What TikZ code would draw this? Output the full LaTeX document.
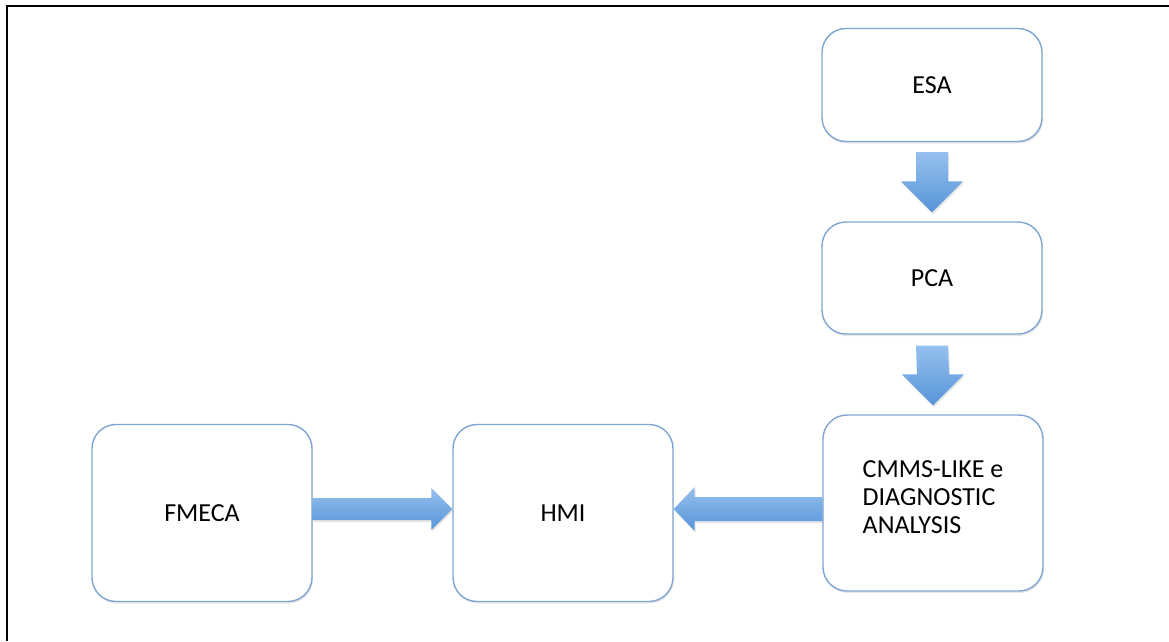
\documentclass[tikz,border=0pt]{standalone}
\usepackage{fontspec}
\setmainfont{Carlito}
\usetikzlibrary{calc,shadows}
\definecolor{boxline}{RGB}{126,166,211}
\definecolor{arrlight}{RGB}{150,192,238}
\definecolor{arrdark}{RGB}{86,148,218}
\tikzset{
  stepbox/.style={draw=boxline, line width=1.4pt, fill=white, rounded corners=24pt,
    minimum width=220pt, inner sep=0pt, align=left,
    font=\fontsize{26}{28}\selectfont,
    drop shadow={opacity=0.18, shadow xshift=1pt, shadow yshift=-2pt}},
  blockarrow/.style={top color=arrlight, bottom color=arrdark,
    drop shadow={opacity=0.2, shadow xshift=1pt, shadow yshift=-2pt}},
}
\begin{document}
\begin{tikzpicture}[x=1pt,y=-1pt]
  \useasboundingbox[fill=white] (0,0) rectangle (1169,641);
  % frame
  \draw[line width=2pt] (7,641) -- (7,6) -- (1169,6);

  % boxes
  \node[stepbox, minimum height=113pt] (esa)   at (932,85)  {ESA};
  \node[stepbox, minimum height=112pt] (pca)   at (932,278) {PCA};
  \node[stepbox, minimum height=176pt] (cmms)  at (933,503) {};
  \node[align=left, font=\fontsize{26}{28}\selectfont] (cmmstext) at ($(cmms)+(0,-6)$)
    {CMMS-LIKE e\\DIAGNOSTIC\\ANALYSIS};
  \node[stepbox, minimum height=177pt] (fmeca) at (202,513) {FMECA};
  \node[stepbox, minimum height=177pt] (hmi)   at (563,513) {HMI};

  % block arrow ESA -> PCA
  \coordinate (a1s) at ($(esa.south)+(0,10)$);
  \coordinate (a1e) at ($(pca.north)+(0,-9)$);
  \shade[blockarrow] ($(a1s)+(-16,0)$) -- ($(a1s)+(16,0)$) -- ($(a1e)+(16,-31)$)
    -- ($(a1e)+(31,-31)$) -- (a1e) -- ($(a1e)+(-31,-31)$) -- ($(a1e)+(-16,-31)$) -- cycle;

  % block arrow PCA -> CMMS
  \coordinate (a2s) at ($(pca.south)+(0,11)$);
  \coordinate (a2e) at ($(cmms.north)+(0,-9)$);
  \shade[blockarrow] ($(a2s)+(-16,0)$) -- ($(a2s)+(16,0)$) -- ($(a2e)+(16,-31)$)
    -- ($(a2e)+(31,-31)$) -- (a2e) -- ($(a2e)+(-31,-31)$) -- ($(a2e)+(-16,-31)$) -- cycle;

  % block arrow FMECA -> HMI
  \coordinate (a3s) at ($(fmeca.east)+(0,-4)$);
  \coordinate (a3e) at ($(hmi.west)+(0,-4)$);
  \shade[blockarrow] ($(a3s)+(0,-11)$) -- ($(a3e)+(-21,-11)$) -- ($(a3e)+(-21,-21)$)
    -- (a3e) -- ($(a3e)+(-21,21)$) -- ($(a3e)+(-21,11)$) -- ($(a3s)+(0,11)$) -- cycle;

  % block arrow CMMS -> HMI
  \coordinate (a4e) at ($(hmi.east)+(0,-4)$);
  \coordinate (a4s) at (cmms.west |- a4e);
  \shade[blockarrow] ($(a4s)+(0,-12)$) -- ($(a4e)+(21,-12)$) -- ($(a4e)+(21,-22)$)
    -- (a4e) -- ($(a4e)+(21,22)$) -- ($(a4e)+(21,12)$) -- ($(a4s)+(0,12)$) -- cycle;
\end{tikzpicture}
\end{document}
